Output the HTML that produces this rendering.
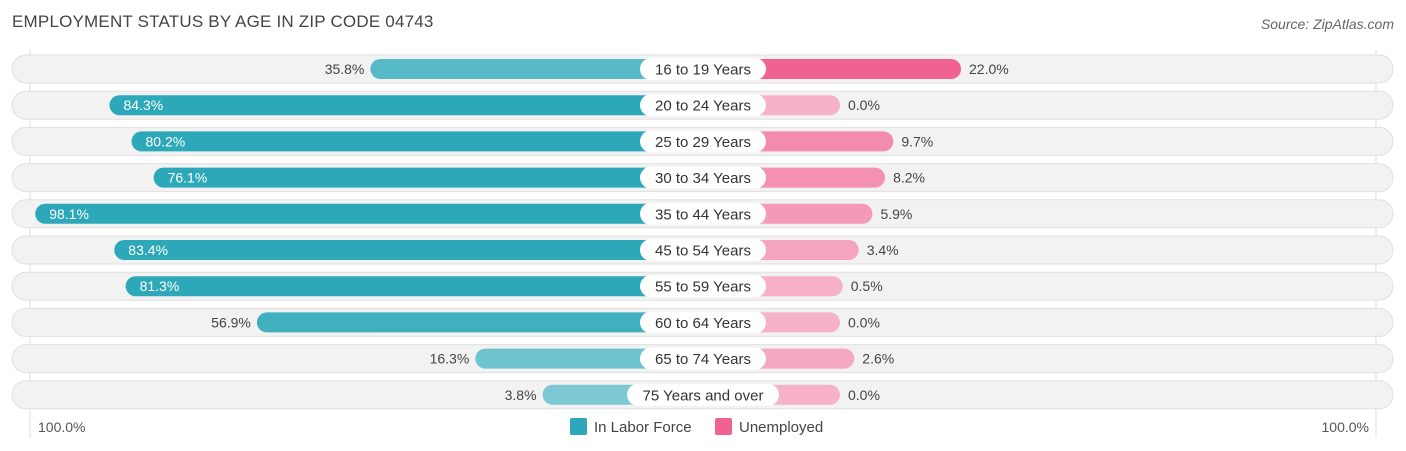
<!DOCTYPE html>
<html><head><meta charset="utf-8"><style>
body{margin:0;width:1406px;height:451px;background:#fff;font-family:"Liberation Sans",sans-serif;overflow:hidden;position:relative}
#title{position:absolute;left:12px;top:12px;font-size:17px;color:#444;letter-spacing:0.2px}
#source{position:absolute;right:12px;top:16px;font-size:14px;color:#666;font-style:italic}
</style></head><body>
<div id="title">EMPLOYMENT STATUS BY AGE IN ZIP CODE 04743</div>
<div id="source">Source: ZipAtlas.com</div>
<svg id="chart" width="1406" height="451" style="position:absolute;left:0;top:0"></svg>
<script>
const categories=["16 to 19 Years","20 to 24 Years","25 to 29 Years","30 to 34 Years","35 to 44 Years","45 to 54 Years","55 to 59 Years","60 to 64 Years","65 to 74 Years","75 Years and over"];
const laborForce=[35.8,84.3,80.2,76.1,98.1,83.4,81.3,56.9,16.3,3.8];
const unemployed=[22.0,0.0,9.7,8.2,5.9,3.4,0.5,0.0,2.6,0.0];
const svg=document.getElementById('chart');
const NS='http://www.w3.org/2000/svg';
const cx=703,offL=140,offR=137,scaleL=5.38,scaleR=5.5,y0=69,step=36.2;
function xL(v){return cx-offL-v*scaleL;}
function xR(v){return cx+offR+v*scaleR;}
function yRow(i){return y0+i*step;}
function mk(tag,attrs,parent){const e=document.createElementNS(NS,tag);for(const k in attrs)e.setAttribute(k,attrs[k]);(parent||svg).appendChild(e);return e;}
function mix(a,b,t){return 'rgb('+a.map((c,i)=>Math.round(c+(b[i]-c)*t)).join(',')+')';}
const gl=mk('line',{x1:30,x2:30,y1:50,y2:438,stroke:'#ddd','stroke-width':1});


const gr=mk('line',{x1:1376,x2:1376,y1:50,y2:438,stroke:'#ddd','stroke-width':1});


categories.forEach((c,i)=>{
 const y=yRow(i);
 const g=mk('g',{});
 
 
 const bg=mk('rect',{x:12,y:y-14,width:1381,height:28,rx:14,fill:'#f2f2f2',stroke:'#e0e0e0','stroke-width':1},g);
 
 
 const lv=laborForce[i],uv=unemployed[i];
 const lx=xL(lv);
 const lb=mk('rect',{x:lx,y:y-10,width:cx-lx,height:20,rx:10,fill:mix([128,203,212],[44,168,184],Math.min(1,lv/75))},g);
 
 
 const rx=xR(uv);
 const rb=mk('rect',{x:cx,y:y-10,width:rx-cx,height:20,rx:10,fill:mix([246,178,200],[240,98,146],Math.min(1,uv/20))},g);
 
 
 const inside=lv>60;
 const lt=mk('text',{x:inside?lx+14:lx-6,y:y+5,'font-size':14,fill:inside?'#fff':'#444','text-anchor':inside?'start':'end'},g);
 lt.textContent=lv.toFixed(1)+'%';
 
 
 const rt=mk('text',{x:rx+8,y:y+5,'font-size':14,fill:'#444'},g);
 rt.textContent=uv.toFixed(1)+'%';
 
 
 const w=c.length>14?152:126;
 const pill=mk('rect',{x:cx-w/2,y:y-11,width:w,height:22,rx:11,fill:'#fff'},g);
 
 
 const ct=mk('text',{x:cx,y:y+5.5,'font-size':15,fill:'#333','text-anchor':'middle'},g);
 ct.textContent=c;
 
 
});
const a1=mk('text',{x:38,y:432,'font-size':14,fill:'#555'});a1.textContent='100.0%';


const a2=mk('text',{x:1369,y:432,'font-size':14,fill:'#555','text-anchor':'end'});a2.textContent='100.0%';


const s1=mk('rect',{x:570,y:418,width:17,height:17,rx:2,fill:'#2ea8b8'});


const l1=mk('text',{x:594,y:432,'font-size':15,fill:'#444'});l1.textContent='In Labor Force';


const s2=mk('rect',{x:715,y:418,width:17,height:17,rx:2,fill:'#f06292'});


const l2=mk('text',{x:739,y:432,'font-size':15,fill:'#444'});l2.textContent='Unemployed';


</script>
</body></html>
